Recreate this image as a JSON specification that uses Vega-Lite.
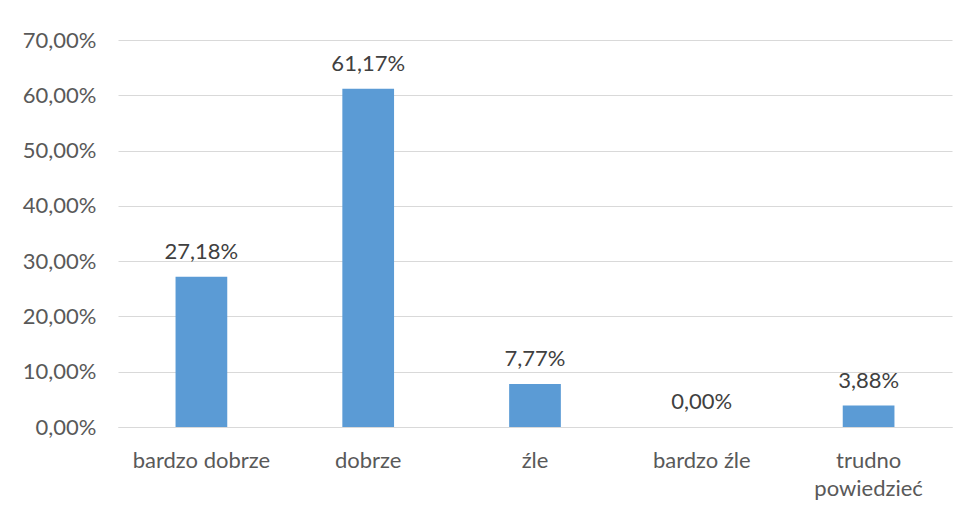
{
  "$schema": "https://vega.github.io/schema/vega-lite/v6.json",
  "width": 834,
  "height": 387,
  "autosize": {"type": "none"},
  "padding": {"left": 118, "top": 40, "right": 18, "bottom": 83},
  "background": "white",
  "config": {
    "locale": {"number": {"decimal": ",", "thousands": " ", "grouping": [3], "currency": ["", " zł"]}},
    "view": {"stroke": null},
    "font": "Lato"
  },
  "data": {
    "values": [
      {"kategoria": "bardzo dobrze", "wartosc": 0.2718},
      {"kategoria": "dobrze", "wartosc": 0.6117},
      {"kategoria": "źle", "wartosc": 0.0777},
      {"kategoria": "bardzo źle", "wartosc": 0.0},
      {"kategoria": "trudno powiedzieć", "wartosc": 0.0388}
    ]
  },
  "encoding": {
    "x": {
      "field": "kategoria",
      "type": "nominal",
      "sort": null,
      "scale": {"paddingInner": 0.69, "paddingOuter": 0.345},
      "axis": {
        "title": null,
        "labelAngle": 0,
        "ticks": false,
        "domainColor": "#d9d9d9",
        "domainWidth": 1,
        "labelColor": "#595959",
        "labelFontSize": 22,
        "labelPadding": 33,
        "labelLineHeight": 28,
        "labelBaseline": "middle",
        "labelExpr": "datum.label == 'trudno powiedzieć' ? ['trudno', 'powiedzieć'] : datum.label"
      }
    },
    "y": {
      "field": "wartosc",
      "type": "quantitative",
      "scale": {"domain": [0, 0.7], "nice": false},
      "axis": {
        "title": null,
        "format": ".2%",
        "values": [0, 0.1, 0.2, 0.3, 0.4, 0.5, 0.6, 0.7],
        "ticks": false,
        "domain": false,
        "gridColor": "#d9d9d9",
        "gridWidth": 1,
        "labelColor": "#595959",
        "labelFontSize": 22,
        "labelPadding": 22
      }
    }
  },
  "layer": [
    {"mark": {"type": "bar", "color": "#5b9bd5"}},
    {
      "mark": {"type": "text", "baseline": "bottom", "dy": -13, "fontSize": 22, "color": "#404040"},
      "encoding": {"text": {"field": "wartosc", "type": "quantitative", "format": ".2%"}}
    }
  ]
}
